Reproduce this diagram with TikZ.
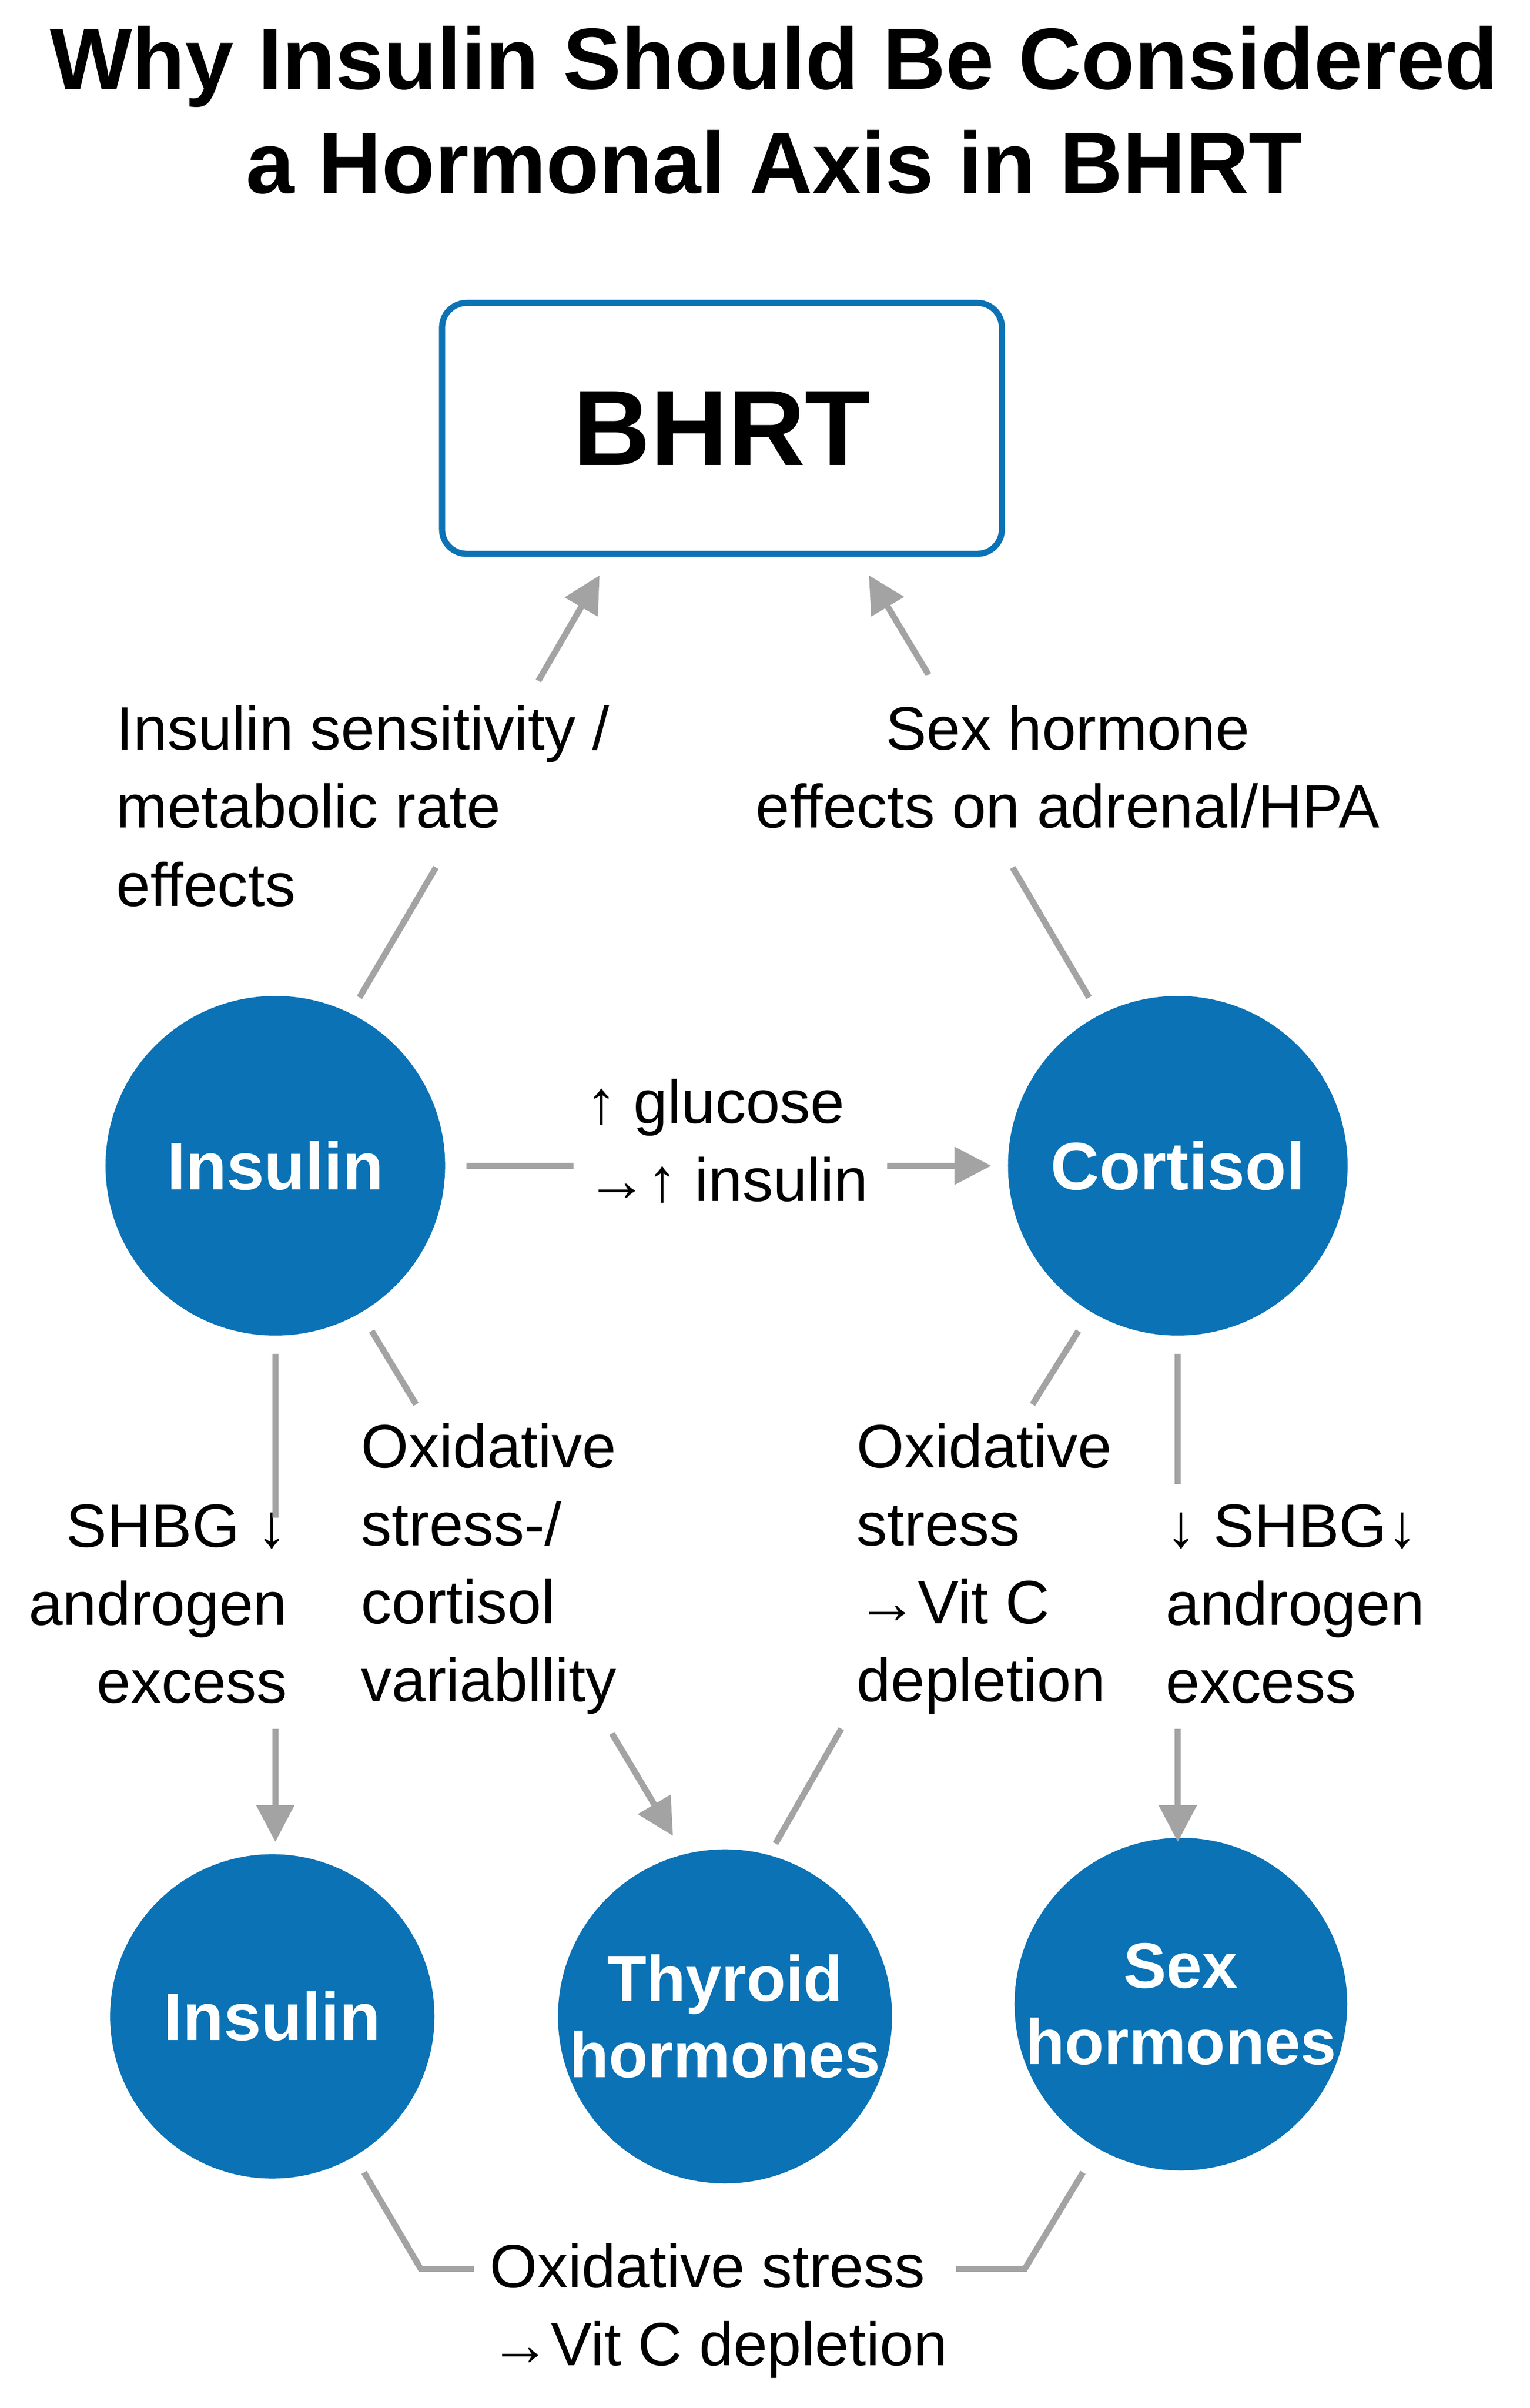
\documentclass[tikz,border=0pt]{standalone}
\usepackage{fontspec}
\setmainfont{Liberation Sans}
\usetikzlibrary{arrows.meta}
\definecolor{cblue}{HTML}{0A72B5}
\definecolor{cgray}{HTML}{A3A3A3}
\begin{document}
\begin{tikzpicture}[x=1pt,y=-1pt,
  circ/.style={circle,fill=cblue,text=white,font=\fontsize{44}{46}\selectfont\bfseries,align=center,inner sep=0},
  lbl/.style={font=\fontsize{40}{51}\selectfont,inner sep=0},
  con/.style={draw=cgray,line width=4pt},
  arr/.style={con,-{Triangle[length=24pt,width=24pt]}}]
\useasboundingbox (0,0) rectangle (1000,1574);
\node[font=\fontsize{57}{68}\selectfont\bfseries,align=center] (title) at (506,72) {Why Insulin Should Be Considered\\a Hormonal Axis in BHRT};
\node[draw=cblue,line width=4pt,rounded corners=16pt,minimum width=366pt,minimum height=164pt,font=\fontsize{70}{72}\selectfont\bfseries] (bhrt) at (472,280) {BHRT};
\node[circ,minimum size=222pt] (ins) at (180,762) {Insulin};
\node[circ,minimum size=222pt] (cor) at (770,762) {Cortisol};
\node[circ,minimum size=212pt] (ins2) at (178,1318) {Insulin};
\node[circ,minimum size=214pt,font=\fontsize{42}{50}\selectfont\bfseries] (thy) at (474,1318) {Thyroid\\hormones};
\node[circ,minimum size=212pt,font=\fontsize{42}{50}\selectfont\bfseries] (sex) at (772,1310) {Sex\\hormones};
% top left
\node[lbl,align=left,anchor=north west] (l1) at (76,461) {Insulin sensitivity /\\metabolic rate\\effects};
\coordinate (a1s) at (285,567); \coordinate (a1e) at (235,652);
\coordinate (b1s) at (352,445); \coordinate (b1e) at (392,376);
\draw[con] (a1e) -- (a1s);
\draw[arr] (b1s) -- (b1e);
% top right
\node[lbl,align=center,anchor=north] (l2) at (698,461) {Sex hormone\\effects on adrenal/HPA};
\coordinate (a2s) at (662,567); \coordinate (a2e) at (712,652);
\coordinate (b2s) at (607,441); \coordinate (b2e) at (568,376);
\draw[con] (a2e) -- (a2s);
\draw[arr] (b2s) -- (b2e);
% horizontal
\node[lbl,align=left,anchor=north west] (l3) at (383,705) {↑ glucose\\→↑ insulin};
\coordinate (h1) at (305,762); \coordinate (h2) at (375,762);
\coordinate (h3) at (580,762); \coordinate (h4) at (648,762);
\draw[con] (h1) -- (h2);
\draw[arr] (h3) -- (h4);
% left vertical
\node[lbl,align=right,anchor=north east] (l4) at (188,983) {SHBG ↓\\androgen\\excess};
\coordinate (v1) at (180,885); \coordinate (v2) at (180,992);
\coordinate (v3) at (180,1130); \coordinate (v4) at (180,1204);
\draw[con] (v1) -- (v2);
\draw[arr] (v3) -- (v4);
% left diagonal
\node[lbl,align=left,anchor=north west] (l5) at (236,930) {Oxidative\\stress-/\\cortisol\\variabllity};
\coordinate (d1) at (243,870); \coordinate (d2) at (272,918);
\coordinate (d3) at (400,1133); \coordinate (d4) at (440,1200);
\draw[con] (d1) -- (d2);
\draw[arr] (d3) -- (d4);
% right diagonal
\node[lbl,align=left,anchor=north west] (l6) at (560,930) {Oxidative\\stress\\→Vit C\\depletion};
\coordinate (e1) at (705,870); \coordinate (e2) at (675,918);
\coordinate (e3) at (550,1130); \coordinate (e4) at (507,1205);
\draw[con] (e1) -- (e2);
\draw[con] (e3) -- (e4);
% right vertical
\node[lbl,align=left,anchor=north west] (l7) at (762,983) {↓ SHBG↓\\androgen\\excess};
\coordinate (r1) at (770,885); \coordinate (r2) at (770,970);
\coordinate (r3) at (770,1130); \coordinate (r4) at (770,1204);
\draw[con] (r1) -- (r2);
\draw[arr] (r3) -- (r4);
% bottom
\node[lbl,align=left,anchor=north west] (l8) at (320,1466) {Oxidative stress\\→Vit C depletion};
\coordinate (p1) at (238,1420); \coordinate (p2) at (275,1483); \coordinate (p3) at (310,1483);
\coordinate (q1) at (625,1483); \coordinate (q2) at (670,1483); \coordinate (q3) at (708,1420);
\draw[con] (p1) -- (p2) -- (p3);
\draw[con] (q1) -- (q2) -- (q3);
\end{tikzpicture}
\end{document}
